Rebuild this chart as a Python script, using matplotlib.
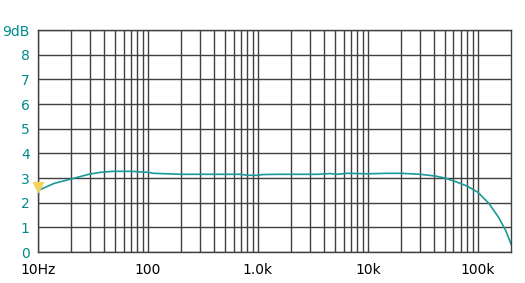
import matplotlib
matplotlib.use("Agg")
import matplotlib.pyplot as plt
from matplotlib.ticker import FixedLocator, NullFormatter

TEAL, CURVE, GRID = "#008c8c", "#1a9a9a", "#404040"
MARK = "#f5d35a"

freq = [10, 12, 14, 20, 29, 37, 48, 70, 100, 112, 150, 200, 300, 500, 700,
        800, 1000, 1100, 1500, 2000, 3500, 4500, 5300, 6500, 10000, 15000,
        20000, 30000, 41000, 50000, 63000, 80000, 100000, 126000, 156000,
        180000, 200000]
db = [2.49, 2.65, 2.78, 2.96, 3.15, 3.23, 3.27, 3.27, 3.23, 3.19, 3.17,
      3.15, 3.15, 3.15, 3.15, 3.11, 3.11, 3.14, 3.15, 3.15, 3.15, 3.18,
      3.15, 3.19, 3.17, 3.19, 3.19, 3.15, 3.08, 3.0, 2.85, 2.67, 2.42,
      1.97, 1.37, 0.85, 0.32]
marker_db = 2.65

xticks = [10, 100, 1000, 10000, 100000]
xlabels = ["10Hz", "100", "1.0k", "10k", "100k"]
yticks = list(range(10))
ylabels = ["0", "1", "2", "3", "4", "5", "6", "7", "8", "9dB"]

fig = plt.figure(figsize=(5.25, 2.83), dpi=100)
ax = fig.add_axes([38 / 525, 1 - 252 / 283, 473 / 525, 222 / 283])
ax.set_xscale("log")
ax.set_xlim(10, 200000)
ax.set_ylim(0, 9)

minors = [m * 10 ** e for e in range(1, 6) for m in range(2, 10) if m * 10 ** e < 200000]
ax.xaxis.set_major_locator(FixedLocator(xticks))
ax.xaxis.set_minor_locator(FixedLocator(minors))
ax.xaxis.set_minor_formatter(NullFormatter())
ax.set_xticklabels(xlabels)
ax.set_yticks(yticks)
ax.set_yticklabels(ylabels)
ax.grid(True, which="both", axis="x", color=GRID, lw=1.0)
ax.grid(True, which="major", axis="y", color=GRID, lw=1.0)
ax.tick_params(which="both", length=0)
ax.tick_params(axis="x", pad=8, labelsize=10, labelcolor="black")
ax.tick_params(axis="y", pad=6, labelsize=10, labelcolor=TEAL)
for s in ax.spines.values():
    s.set_color(GRID)
    s.set_linewidth(1.0)

ax.plot(freq, db, color=CURVE, lw=1.2, clip_on=False)
ax.plot([10], [marker_db], marker="v", color=MARK, ms=7, clip_on=False, zorder=5)

fig.savefig("out.png", dpi=100, facecolor="white")
